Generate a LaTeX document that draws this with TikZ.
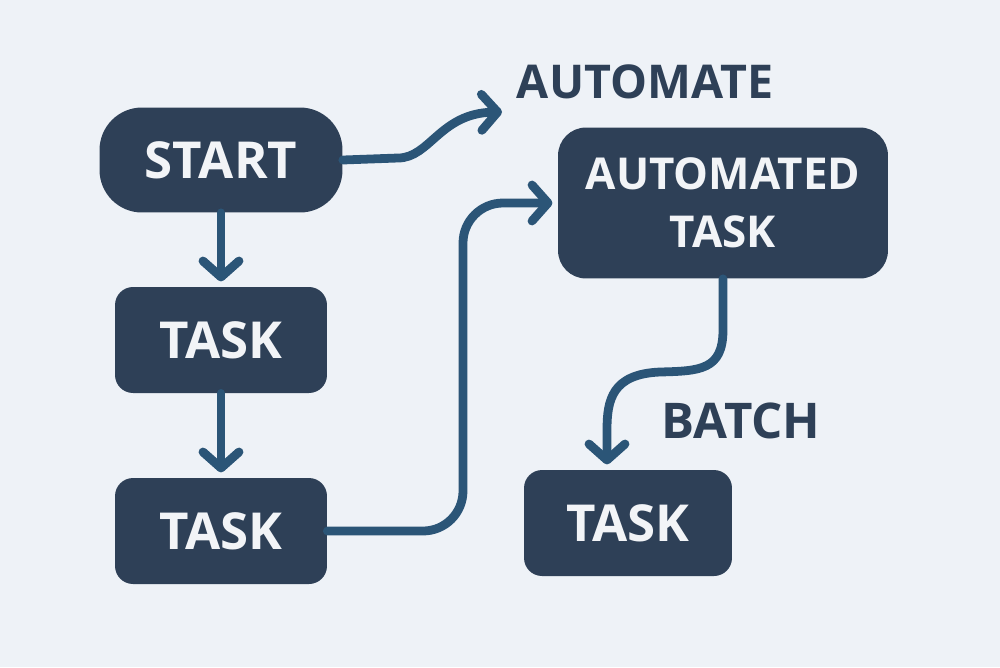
\documentclass[tikz,border=0pt]{standalone}
\usepackage{fontspec}
\setmainfont{Open Sans}
\usetikzlibrary{arrows.meta}
\definecolor{bg}{HTML}{EEF2F7}
\definecolor{boxc}{HTML}{2E4057}
\definecolor{linec}{HTML}{2B5577}
\definecolor{txtc}{HTML}{F2F4F7}
\tikzset{
  box/.style={fill=boxc, text=txtc, inner sep=0pt, align=center, font=\bfseries\fontsize{29}{32}\selectfont},
  lbl/.style={text=boxc, inner sep=0pt, font=\bfseries\fontsize{28}{32}\selectfont},
  conn/.style={draw=linec, line width=5pt, line cap=round, line join=round,
    -{Straight Barb[length=0.32cm, width=0.72cm, line cap=round, line join=round]}},
}
\begin{document}
\begin{tikzpicture}[x=0.02cm,y=-0.02cm]
\useasboundingbox (0,0) rectangle (1000,667);
\fill[bg] (0,0) rectangle (1000,667);
\node[box, minimum width=4.86cm, minimum height=2.1cm, rounded corners=0.85cm] (start) at (221,160) {START};
\node[box, minimum width=4.24cm, minimum height=2.12cm, rounded corners=0.36cm] (task1) at (221,340) {TASK};
\node[box, minimum width=4.24cm, minimum height=2.12cm, rounded corners=0.36cm] (task2) at (221,531) {TASK};
\node[box, minimum width=6.6cm, minimum height=3.02cm, rounded corners=0.56cm, font=\bfseries\fontsize{25}{33}\selectfont] (auto) at (723,203) {AUTOMATED\\TASK};
\node[box, minimum width=4.16cm, minimum height=2.12cm, rounded corners=0.36cm] (task3) at (628,523) {TASK};
\node[lbl, font=\bfseries\fontsize{26.5}{32}\selectfont] (automate) at (645,82) {AUTOMATE};
\node[lbl] (batch) at (741,421) {BATCH};
\coordinate (a1) at (502,112);
\draw[conn] (start.east) -- (398,158) .. controls (430,158) and (440,113) .. (a1);
\draw[conn, shorten >=3pt] (start.south) -- (task1.north);
\draw[conn, shorten >=3pt] (task1.south) -- (task2.north);
\draw[conn, rounded corners=0.8cm, shorten >=3pt] (task2.east) -| (463,203) -- (auto.west);
\draw[conn, shorten >=3pt] (auto.south) -- (723,330) .. controls (723,370) and (700,371) .. (660,372) .. controls (612,374) and (607,400) .. (607,430) -- ([xshift=-0.42cm]task3.north);
\end{tikzpicture}
\end{document}
